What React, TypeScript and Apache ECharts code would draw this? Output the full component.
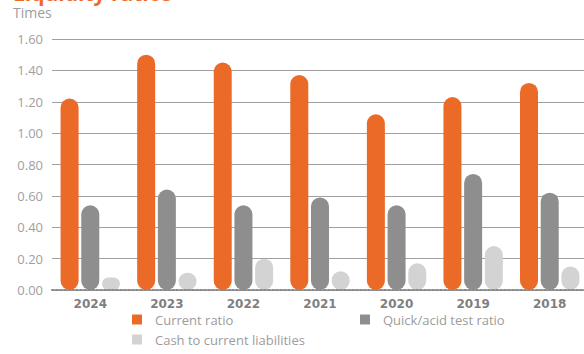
import React, { useEffect, useRef } from "react";
import * as echarts from "echarts";

const categories = ["2024", "2023", "2022", "2021", "2020", "2019", "2018"];
const currentRatio = [1.22, 1.5, 1.45, 1.37, 1.12, 1.23, 1.32];
const quickRatio = [0.54, 0.64, 0.54, 0.59, 0.54, 0.74, 0.62];
const cashRatio = [0.08, 0.11, 0.2, 0.12, 0.17, 0.28, 0.15];
const seriesNames = ["Current ratio", "Quick/acid test ratio", "Cash to current liabilities"];
const colors = ["#EC6A28", "#8E8E8E", "#D3D3D3"];

export default function App() {
  const ref = useRef<HTMLDivElement>(null);
  useEffect(() => {
    if (!ref.current) return;
    const chart = echarts.init(ref.current, undefined, { renderer: "svg" });
    const font = "'Open Sans', 'Noto Sans', sans-serif";
    const legendText = { color: "#9c9c9c", fontSize: 13, fontFamily: font, padding: [0, 0, 0, 8] };
    const mkSeries = (i: number, data: number[]) => ({
      type: "bar",
      name: seriesNames[i],
      data,
      barWidth: 18,
      barGap: "15%",
      itemStyle: { color: colors[i], borderRadius: 9 },
    });
    chart.setOption({
      animation: false,
      color: colors,
      grid: { left: 52, top: 39, width: 536, height: 251, containLabel: false, outerBoundsMode: "none" },
      graphic: [
        {
          type: "text",
          left: 13,
          top: -18,
          style: { text: "Liquidity ratios", fill: "#EC6A28", fontSize: 21, fontWeight: "bold", fontFamily: font },
        },
        {
          type: "text",
          left: 13,
          top: 5,
          style: { text: "Times", fill: "#9c9c9c", fontSize: 14, fontFamily: font },
        },
      ],
      legend: [
        { data: [seriesNames[0]], left: 132, top: 313, padding: 0, icon: "rect", itemWidth: 10, itemHeight: 10, textStyle: legendText, selectedMode: false },
        { data: [seriesNames[1]], left: 360, top: 313, padding: 0, icon: "rect", itemWidth: 10, itemHeight: 10, textStyle: legendText, selectedMode: false },
        { data: [seriesNames[2]], left: 132, top: 333, padding: 0, icon: "rect", itemWidth: 10, itemHeight: 10, textStyle: legendText, selectedMode: false },
      ],
      xAxis: {
        type: "category",
        data: categories,
        axisTick: { show: false },
        axisLine: { show: true, lineStyle: { color: "#8a8a8a", width: 2, type: [2, 2] } },
        axisLabel: { color: "#7f7f7f", fontSize: 12, fontWeight: "bold", fontFamily: "'DejaVu Sans', sans-serif", margin: 8 },
        z: 10,
      },
      yAxis: {
        type: "value",
        min: 0,
        max: 1.6,
        interval: 0.2,
        axisLine: { show: false },
        axisTick: { show: false },
        axisLabel: { color: "#a0a0a0", fontSize: 13, fontFamily: font, margin: 9, formatter: (v: number) => v.toFixed(2) },
        splitLine: { lineStyle: { color: "#a0a0a0", width: 1 } },
      },
      series: [mkSeries(0, currentRatio), mkSeries(1, quickRatio), mkSeries(2, cashRatio)],
    });
    return () => chart.dispose();
  }, []);
  return <div ref={ref} style={{ width: 584, height: 354, position: "absolute", left: 0, top: 0 }} />;
}
